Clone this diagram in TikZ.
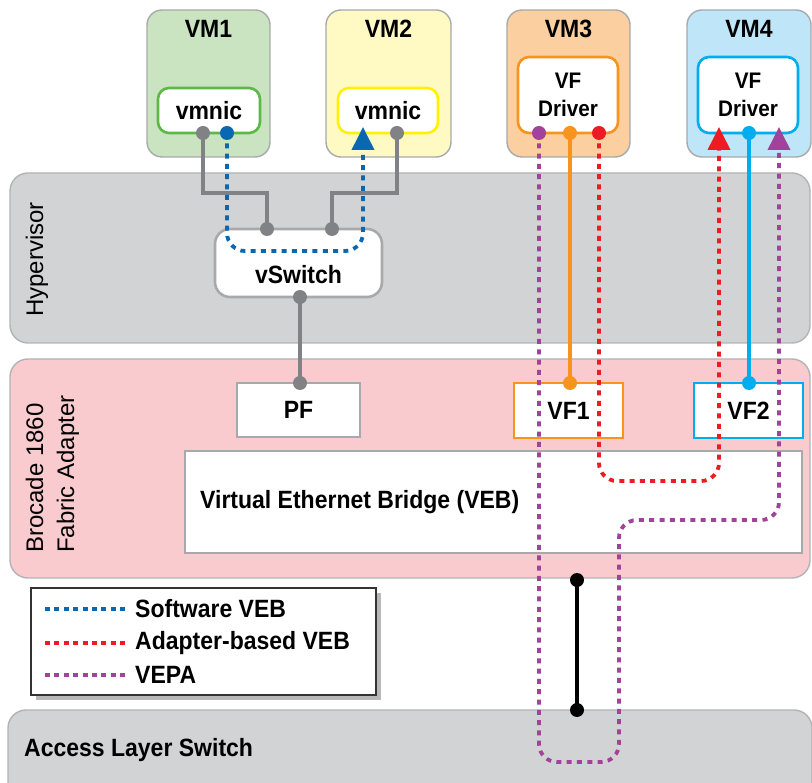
\documentclass[tikz,border=0pt]{standalone}
\usepackage{fontspec}
\setmainfont{Liberation Sans}
\newfontfamily\labelfont{Liberation Sans}[FakeStretch=0.92]
\usetikzlibrary{arrows.meta}

\definecolor{bandgray}{HTML}{D1D3D4}
\definecolor{bandedge}{HTML}{B1B3B6}
\definecolor{bandpink}{HTML}{F9CBCE}
\definecolor{boxedge}{HTML}{A7A9AC}
\definecolor{vmgreen}{HTML}{CAE3C0}
\definecolor{vmyellow}{HTML}{FFF9C4}
\definecolor{vmpeach}{HTML}{FBCFA0}
\definecolor{vmblue}{HTML}{BEE5F8}
\definecolor{nicgreen}{HTML}{5DB947}
\definecolor{nicyellow}{HTML}{FFF200}
\definecolor{orangeln}{HTML}{F7941E}
\definecolor{cyanln}{HTML}{00AEEF}
\definecolor{wiregray}{HTML}{808285}
\definecolor{swblue}{HTML}{0A67B2}
\definecolor{adred}{HTML}{ED1C24}
\definecolor{vepapurple}{HTML}{A3429B}

\tikzset{
  band/.style={draw=bandedge, line width=1.4pt, rounded corners=18pt},
  vmbox/.style={draw=boxedge, line width=1.4pt, rounded corners=15pt},
  nicbox/.style={draw, fill=white, line width=2.6pt, rounded corners=11pt},
  portbox/.style={draw, fill=white, line width=2.6pt},
  lbl/.style={font=\labelfont\fontsize{25}{28}\selectfont\bfseries, inner sep=0pt},
  sidelbl/.style={font=\fontsize{24}{31}\selectfont, inner sep=0pt, rotate=90, align=left},
  pin/.style={circle, fill, inner sep=0pt, minimum size=14pt},
  wire/.style={line width=3.3pt},
  flow/.style={line width=3.8pt, dash pattern=on 5pt off 5.3pt, rounded corners=18pt},
  tip/.style={-{Triangle[length=23pt,width=22pt]}}
}

\begin{document}
\begin{tikzpicture}[x=1pt,y=-1pt]
\useasboundingbox (0,0) rectangle (812,783);
\begin{scope}
\clip (0,0) rectangle (812,783);

% horizontal layers
\draw[band, fill=bandgray] (10,173) rectangle (810,343);
\draw[band, fill=bandpink] (10,359) rectangle (810,578);
\draw[band, fill=bandgray] (8,710) rectangle (812,810);

\node[sidelbl, anchor=west] (hyplbl) at (37,317) {Hypervisor};
\node[sidelbl, anchor=west] (adlbl) at (52.5,553) {Brocade 1860\\Fabric Adapter};
\node[lbl, anchor=west] (accesslbl) at (24,750) {Access Layer Switch};

% virtual machines
\draw[vmbox, fill=vmgreen]  (147,10) rectangle (270,157);
\draw[vmbox, fill=vmyellow] (326,10) rectangle (451,157);
\draw[vmbox, fill=vmpeach]  (507,10) rectangle (630,157);
\draw[vmbox, fill=vmblue]   (687,10) rectangle (811,157);
\node[lbl] (vm1) at (208.5,29) {VM1};
\node[lbl] (vm2) at (388.5,29) {VM2};
\node[lbl] (vm3) at (568.5,29) {VM3};
\node[lbl] (vm4) at (749,29) {VM4};

% adapters inside the VMs
\node[nicbox, draw=nicgreen, minimum width=102pt, minimum height=45pt, lbl] (nic1) at (209,110.5) {vmnic};
\node[nicbox, draw=nicyellow, minimum width=100pt, minimum height=45pt, lbl] (nic2) at (388,110.5) {vmnic};
\node[nicbox, draw=orangeln, minimum width=100pt, minimum height=76pt, lbl, align=center,
      font=\labelfont\fontsize{22.5}{28}\selectfont\bfseries] (drv3) at (568,95) {VF\\Driver};
\node[nicbox, draw=cyanln, minimum width=100pt, minimum height=76pt, lbl, align=center,
      font=\labelfont\fontsize{22.5}{28}\selectfont\bfseries] (drv4) at (748,95) {VF\\Driver};

% hypervisor switch
\node[nicbox, draw=boxedge, minimum width=167pt, minimum height=68pt, rounded corners=15pt] (vsw) at (298.5,263) {};
\node[lbl] (vswlbl) at (298.5,275) {vSwitch};

% adapter functions
\node[portbox, draw=boxedge, minimum width=123pt, minimum height=54pt, lbl] (pf) at (298.5,410) {PF};
\node[portbox, draw=orangeln, minimum width=109pt, minimum height=55pt, lbl] (vf1) at (568.5,410.5) {VF1};
\node[portbox, draw=cyanln, minimum width=109pt, minimum height=55pt, lbl] (vf2) at (748.5,410.5) {VF2};
\node[portbox, draw=boxedge, minimum width=617pt, minimum height=102pt] (veb) at (493.5,502) {};
\node[lbl, anchor=west] (veblbl) at (200,502) {Virtual Ethernet Bridge (VEB)};

% connection points
\coordinate (n1a) at (203,133);
\coordinate (n1b) at (227,133);
\coordinate (n2a) at (397,133);
\coordinate (n2b) at (363,127);
\coordinate (swa) at (267,229);
\coordinate (swb) at (332,229);
\coordinate (swc) at (300,297);
\coordinate (pft) at (300,383);
\coordinate (d3p) at (539,133);
\coordinate (d3o) at (570,133);
\coordinate (d3r) at (599,133);
\coordinate (d4r) at (719,127);
\coordinate (d4c) at (749,133);
\coordinate (d4p) at (779,127);
\coordinate (vf1t) at (570,383);
\coordinate (vf2t) at (749,383);
\coordinate (upl) at (577,580);
\coordinate (upr) at (577,710);

% physical wiring
\draw[wire, wiregray] (n1a) |- (267,193) -- (swa);
\draw[wire, wiregray] (n2a) |- (332,193) -- (swb);
\draw[wire, wiregray] (swc) -- (pft);
\draw[wire, orangeln] (d3o) -- (vf1t);
\draw[wire, cyanln] (d4c) -- (vf2t);
\draw[wire, black] (upl) -- (upr);

% traffic paths
\draw[flow, swblue, tip] (n1b) -- (227,251) -- (363,251) -- (n2b);
\draw[flow, adred, tip] (d3r) -- (599,481) -- (719,481) -- (d4r);
\draw[flow, vepapurple, tip] (d3p) -- (539,762) -- (619,762) -- (619,520) -- (779,520) -- (d4p);

% pins
\foreach \p in {n1a,n2a,swa,swb,swc,pft} \node[pin, wiregray] at (\p) {};
\node[pin, swblue] at (n1b) {};
\node[pin, vepapurple] at (d3p) {};
\node[pin, orangeln] at (d3o) {};
\node[pin, adred] at (d3r) {};
\node[pin, cyanln] at (d4c) {};
\node[pin, orangeln] at (vf1t) {};
\node[pin, cyanln] at (vf2t) {};
\node[pin, black] at (upl) {};
\node[pin, black] at (upr) {};

% legend
\fill[black!28] (36,593) rectangle (381,700);
\node[draw=black!80, fill=white, line width=1.4pt, minimum width=345pt, minimum height=107pt] (legend) at (203.5,641.5) {};
\coordinate (l1a) at (45,609); \coordinate (l1b) at (127,609);
\coordinate (l2a) at (45,643); \coordinate (l2b) at (127,643);
\coordinate (l3a) at (45,675); \coordinate (l3b) at (127,675);
\draw[line width=3.6pt, dash pattern=on 5pt off 4.4pt, swblue] (l1a) -- (l1b);
\draw[line width=3.6pt, dash pattern=on 5pt off 4.4pt, adred] (l2a) -- (l2b);
\draw[line width=3.6pt, dash pattern=on 5pt off 4.4pt, vepapurple] (l3a) -- (l3b);
\node[lbl, anchor=west] (t1) at (135,609) {Software VEB};
\node[lbl, anchor=west] (t2) at (135,643) {Adapter-based VEB};
\node[lbl, anchor=west] (t3) at (135,675) {VEPA};
\end{scope}
\end{tikzpicture}
\end{document}
